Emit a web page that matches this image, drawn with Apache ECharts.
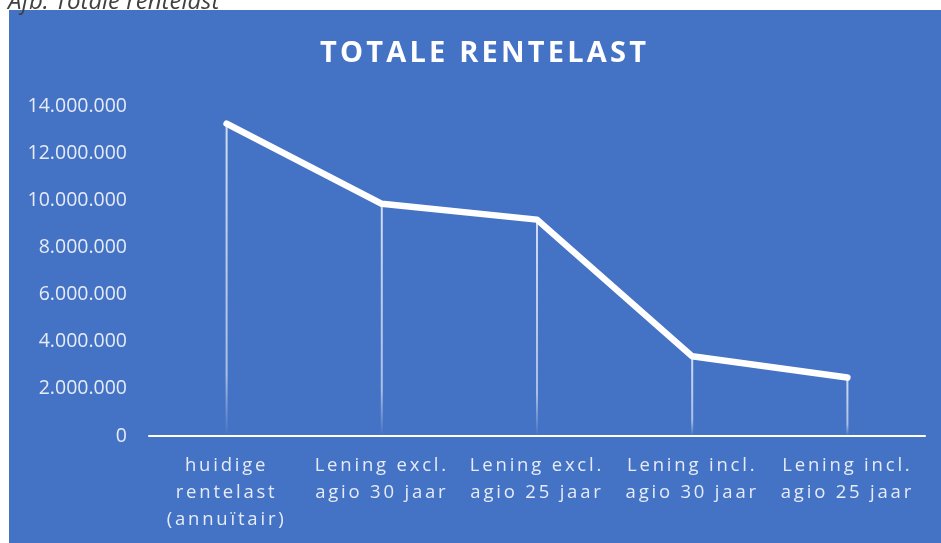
<!DOCTYPE html>
<html>
<head>
<meta charset="utf-8">
<script src="https://cdn.jsdelivr.net/npm/echarts@6/dist/echarts.min.js"></script>
<style>
  html, body { margin: 0; padding: 0; background: #fff; }
  #chart { width: 941px; height: 543px; }
</style>
</head>
<body>
<div id="chart"></div>
<script>
// categorieën en totale rentelast per variant
const categories = [
  'huidige\nrentelast\n(annuïtair)',
  'Lening excl.\nagio 30 jaar',
  'Lening excl.\nagio 25 jaar',
  'Lening incl.\nagio 30 jaar',
  'Lening incl.\nagio 25 jaar'
];
const rentelast = [13250000, 9850000, 9180000, 3380000, 2480000];
const yTicks = { min: 0, max: 14000000, interval: 2000000 };

const fmt = v => String(v).replace(/\B(?=(\d{3})+(?!\d))/g, '.');

// letter-spacing: een nep-fontfamilie "lsN" in de fontstring geeft N px spatiëring
const proto = CanvasRenderingContext2D.prototype;
const origFillText = proto.fillText;
proto.fillText = function (text, x, y, maxW) {
  const m = /ls(\d+(?:\.\d+)?)/.exec(this.font);
  this.letterSpacing = m ? m[1] + 'px' : '0px';
  return maxW === undefined ? origFillText.call(this, text, x, y) : origFillText.call(this, text, x, y, maxW);
};

const chart = echarts.init(document.getElementById('chart'));
chart.setOption({
  backgroundColor: '#ffffff',
  graphic: [
    {
      type: 'rect', z: -10, silent: true,
      shape: { x: 9, y: 10, width: 932, height: 533 },
      style: { fill: '#4472C4' }
    },
    {
      type: 'text', silent: true,
      style: {
        text: 'Afb. Totale rentelast', x: 8, y: 14,
        verticalAlign: 'bottom',
        font: 'italic 24px "Open Sans"', fill: '#404040'
      }
    }
  ],
  title: {
    text: 'TOTALE RENTELAST',
    left: 315,
    top: 34,
    textStyle: { color: '#ffffff', fontSize: 29, fontWeight: 'bold', fontFamily: '"Open Sans", "ls3.2"' }
  },
  grid: { left: 149, right: 16, top: 106, bottom: 107, containLabel: false },
  xAxis: {
    type: 'category',
    data: categories,
    axisLine: { lineStyle: { color: '#ffffff', width: 2 } },
    axisTick: { show: false },
    axisLabel: {
      color: '#e6ecf7', fontSize: 18.5, fontFamily: '"Open Sans", "ls2.8"',
      lineHeight: 27, margin: 16, interval: 0
    }
  },
  yAxis: {
    type: 'value',
    min: yTicks.min, max: yTicks.max, interval: yTicks.interval,
    axisLine: { show: false },
    axisTick: { show: false },
    splitLine: { show: false },
    axisLabel: {
      color: '#e6ecf7', fontSize: 19.5, fontFamily: 'Open Sans', margin: 22,
      formatter: v => fmt(v)
    }
  },
  series: [
    {
      // loodlijnen
      type: 'bar',
      data: rentelast,
      barWidth: 2,
      silent: true,
      itemStyle: {
        color: new echarts.graphic.LinearGradient(0, 0, 0, 1, [
          { offset: 0, color: 'rgba(255,255,255,0.75)' },
          { offset: 0.8, color: 'rgba(255,255,255,0.55)' },
          { offset: 1, color: 'rgba(255,255,255,0)' }
        ])
      }
    },
    {
      type: 'line',
      data: rentelast,
      showSymbol: false,
      lineStyle: { color: '#ffffff', width: 6.5, cap: 'round', join: 'round' },
      z: 5
    }
  ]
});
</script>
</body>
</html>
